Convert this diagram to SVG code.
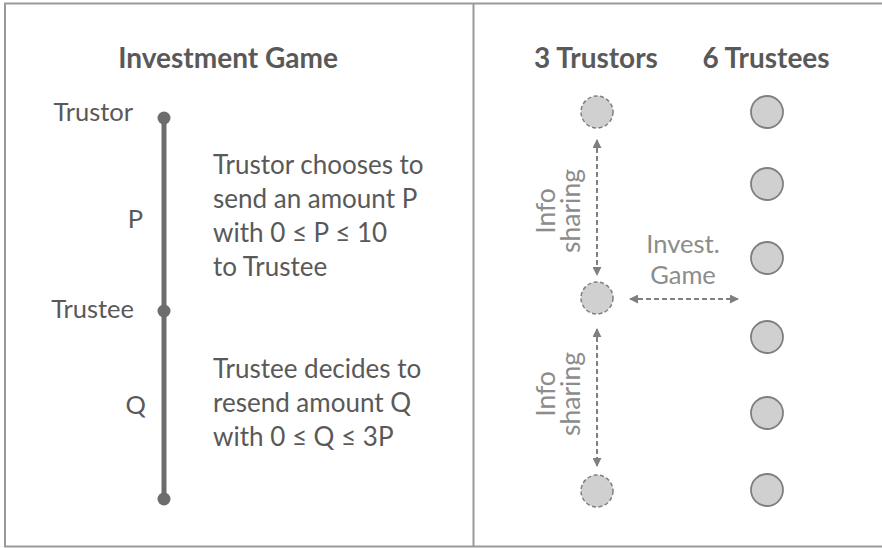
<svg xmlns="http://www.w3.org/2000/svg" width="882" height="548" viewBox="0 0 882 548">
<style>
text{font-family:Lato,"Open Sans","Liberation Sans",sans-serif;fill:#595959}
.title{font-size:28px;font-weight:bold;text-anchor:middle}
.body{font-size:26px}
.lab{font-size:25.5px;text-anchor:end}
.gs{font-size:26.5px;fill:#8c8c8c;text-anchor:middle}
.gs2{font-size:25.5px;fill:#8c8c8c;text-anchor:middle}
.trustor{fill:#d0d0d0;stroke:#7f7f7f;stroke-width:1.5;stroke-dasharray:4 2.5}
.trustee{fill:#d0d0d0;stroke:#7f7f7f;stroke-width:1.8}
.arr{stroke:#7f7f7f;stroke-width:2;stroke-dasharray:5 3;fill:none;marker-start:url(#ah);marker-end:url(#ah)}
.dot{fill:#6d6d6d}
</style>
<defs>
<marker id="ah" viewBox="0 0 10 10" refX="9" refY="5" markerWidth="4.5" markerHeight="4.5" orient="auto-start-reverse" markerUnits="strokeWidth">
<path d="M0,0 L10,5 L0,10 z" fill="#7f7f7f"/>
</marker>
</defs>
<g id="frame" fill="none" stroke="#999" stroke-width="2">
<path d="M882,3.5 H5 V546.5 H882"/>
<path d="M473.5,3.5 V546.5"/>
</g>
<g id="left-panel">
<text class="title" x="228" y="68">Investment Game</text>
<g id="timeline">
<line x1="164" y1="118" x2="164" y2="499" stroke="#6d6d6d" stroke-width="5"/>
<circle class="dot" cx="164" cy="118" r="6.5"/>
<circle class="dot" cx="164" cy="311" r="6.5"/>
<circle class="dot" cx="164" cy="499" r="6.5"/>
</g>
<text class="lab" x="133" y="121">Trustor</text>
<text class="lab" x="143" y="228">P</text>
<text class="lab" x="134" y="318">Trustee</text>
<text class="lab" x="146" y="414">Q</text>
<text class="body" x="213" y="174">Trustor chooses to</text>
<text class="body" x="213" y="208">send an amount P</text>
<text class="body" x="213" y="242">with 0 ≤ P ≤ 10</text>
<text class="body" x="213" y="276">to Trustee</text>
<text class="body" x="213" y="378">Trustee decides to</text>
<text class="body" x="213" y="412">resend amount Q</text>
<text class="body" x="213" y="446">with 0 ≤ Q ≤ 3P</text>
</g>
<g id="right-panel">
<text class="title" x="596" y="68">3 Trustors</text>
<text class="title" x="766" y="68">6 Trustees</text>
</g>
<g id="trustor-1"><circle class="trustor" cx="597" cy="112" r="16"/></g>
<g id="trustor-2"><circle class="trustor" cx="597" cy="298" r="16"/></g>
<g id="trustor-3"><circle class="trustor" cx="597" cy="491" r="16"/></g>
<g id="trustee-1"><circle class="trustee" cx="767" cy="112" r="16"/></g>
<g id="trustee-2"><circle class="trustee" cx="767" cy="184" r="16"/></g>
<g id="trustee-3"><circle class="trustee" cx="767" cy="258" r="16"/></g>
<g id="trustee-4"><circle class="trustee" cx="767" cy="337" r="16"/></g>
<g id="trustee-5"><circle class="trustee" cx="767" cy="413" r="16"/></g>
<g id="trustee-6"><circle class="trustee" cx="767" cy="490" r="16"/></g>
<g id="connectors">
<path class="arr" d="M597,140 V275"/>
<path class="arr" d="M597,329 V466"/>
<path class="arr" d="M630,299 H738"/>
</g>
<g id="labels">
<text class="gs" transform="translate(555,211) rotate(-90)">Info</text>
<text class="gs" transform="translate(580,211) rotate(-90)">sharing</text>
<text class="gs" transform="translate(555,394) rotate(-90)">Info</text>
<text class="gs" transform="translate(580,394) rotate(-90)">sharing</text>
<text class="gs2" x="683" y="253">Invest.</text>
<text class="gs2" x="683" y="284">Game</text>
</g>
</svg>
